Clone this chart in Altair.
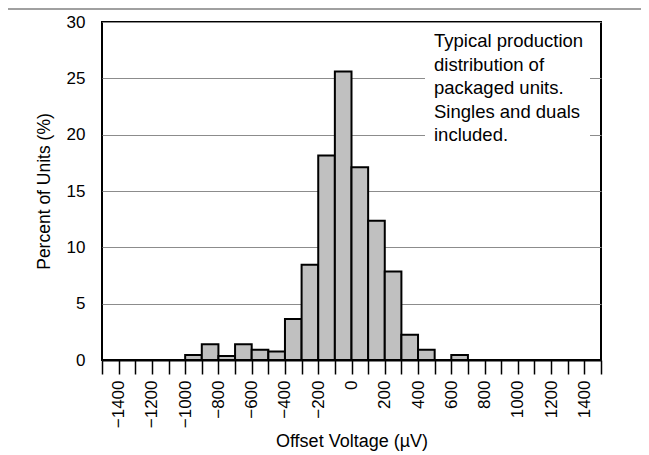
import altair as alt
import pandas as pd

# Histogram bins (µV) and percent of units
bin_start = [-1000, -900, -800, -700, -600, -500, -400, -300, -200, -100, 0, 100, 200, 300, 400, 600]
bin_width = 100
percent = [0.45, 1.4, 0.35, 1.4, 0.9, 0.75, 3.65, 8.45, 18.15, 25.6, 17.1, 12.35, 7.85, 2.25, 0.9, 0.45]

x_ticks = list(range(-1500, 1501, 100))
y_ticks = [0, 5, 10, 15, 20, 25, 30]
note_lines = ["Typical production", "distribution of", "packaged units.", "Singles and duals", "included."]

FONT = "Liberation Sans"

df = pd.DataFrame({
    "start": bin_start,
    "end": [s + bin_width for s in bin_start],
    "pct": percent,
})
one = pd.DataFrame({"k": [0]})

x_scale = alt.Scale(domain=[-1500, 1500], nice=False, zero=False)
y_scale = alt.Scale(domain=[0, 30], nice=False)

bars = alt.Chart(df).mark_rect(
    fill="#c0c0c0", stroke="black", strokeWidth=2
).encode(
    x=alt.X("start:Q", scale=x_scale,
            axis=alt.Axis(values=x_ticks, title="Offset Voltage (µV)", format="d",
                          labelExpr="datum.value % 200 == 0 && abs(datum.value) < 1500 ? datum.label : ''",
                          labelAngle=270, labelPadding=6, tickSize=14, tickWidth=1.5,
                          tickColor="black", grid=False, domainColor="black", domainWidth=2,
                          titlePadding=5, titleFontSize=18)),
    x2="end:Q",
    y=alt.Y("pct:Q", scale=y_scale,
            axis=alt.Axis(values=y_ticks, title="Percent of Units (%)", ticks=False, tickSize=0,
                          labelPadding=17, grid=True, gridColor="#8c8c8c", gridWidth=1,
                          domain=False, titlePadding=13, titleFontSize=17.5)),
    y2=alt.datum(0),
)

box = alt.Chart(one).mark_rect(fill="white").encode(
    x=alt.value(323), x2=alt.value(488), y=alt.value(1), y2=alt.value(128)
)

note = alt.Chart(one).mark_text(
    align="left", baseline="alphabetic", font=FONT, fontSize=18.5, lineHeight=23.5, color="black"
).encode(
    x=alt.value(332), y=alt.value(25), text=alt.value(note_lines)
)

top_line = alt.Chart(one).mark_rule(color="#808080", strokeWidth=1.5).encode(
    x=alt.value(-102), x2=alt.value(547), y=alt.value(-13)
)

chart = alt.layer(box, bars, note, top_line).properties(
    width=499, height=338,
    autosize=alt.AutoSizeParams(type="none"),
    padding={"left": 94, "top": 14, "right": 40, "bottom": 95},
).configure_view(
    stroke="black", strokeWidth=2
).configure_axis(
    labelFont=FONT, titleFont=FONT, labelFontSize=17,
    labelColor="black", titleColor="black", titleFontWeight="normal",
)

chart.save("out.html", embed_options={"renderer": "svg", "actions": False})
